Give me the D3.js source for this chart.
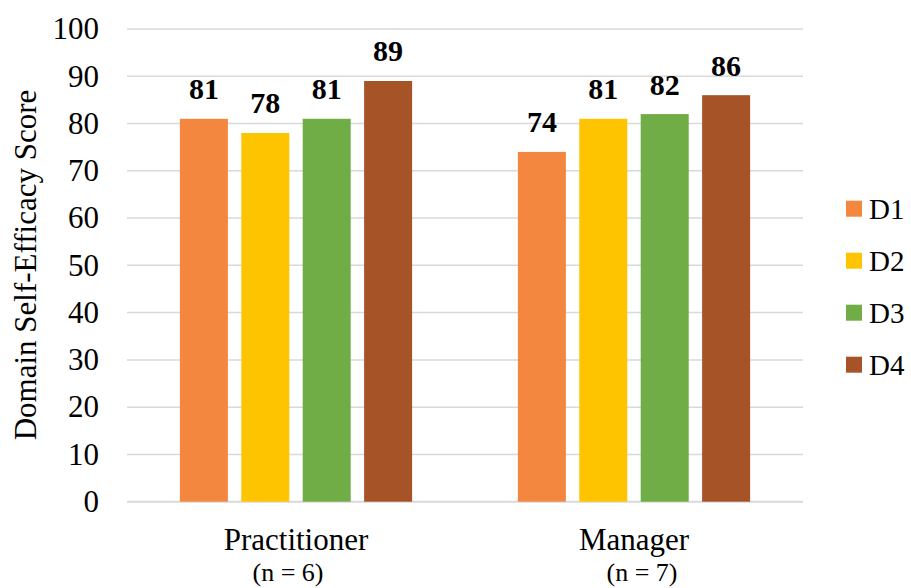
<!DOCTYPE html>
<html>
<head>
<meta charset="utf-8">
<script src="https://d3js.org/d3.v7.min.js"></script>
<style>
  html, body { margin: 0; padding: 0; background: #fff; }
  svg { display: block; }
</style>
</head>
<body>
<svg id="chart" width="911" height="588"></svg>
<script>
// Domain self-efficacy scores by role
const categories = ["Practitioner", "Manager"];
const subLabels = ["(n = 6)", "(n = 7)"];
const series = ["D1", "D2", "D3", "D4"];
const d1 = [81, 74];
const d2 = [78, 81];
const d3values = [81, 82];
const d4 = [89, 86];
const yTicks = [0, 10, 20, 30, 40, 50, 60, 70, 80, 90, 100];
const colors = ["#F4873F", "#FFC400", "#70AD47", "#A65427"];

// pick the first installed serif face
function pickFont(candidates) {
  const ctx = document.createElement("canvas").getContext("2d");
  const sample = "Practitioner 1234567890 Self-Efficacy";
  const widthOf = f => { ctx.font = "40px " + f; return ctx.measureText(sample).width; };
  const mono = widthOf("monospace");
  const sans = widthOf("sans-serif");
  for (const name of candidates) {
    const q = `"${name}"`;
    if (widthOf(`${q}, monospace`) !== mono || widthOf(`${q}, sans-serif`) !== sans) {
      return q;
    }
  }
  return "serif";
}
const FONT = pickFont(["Liberation Serif", "Times New Roman", "Tinos", "Times", "Noto Serif", "DejaVu Serif", "FreeSerif"]) + ", serif";

const values = [d1, d2, d3values, d4];
const rows = categories.map((c, i) => ({
  category: c,
  sub: subLabels[i],
  bars: series.map((s, j) => ({ key: s, value: values[j][i] }))
}));

const svg = d3.select("#chart").attr("font-family", FONT);
const margin = { top: 29, right: 108, bottom: 86, left: 127 };
const W = 911, H = 588;

const x0 = d3.scaleBand()
  .domain(categories)
  .range([margin.left, W - margin.right])
  .padding(0);

const x1 = d3.scaleBand()
  .domain(series)
  .range([0, x0.bandwidth()])
  .paddingInner(0.218)
  .paddingOuter(0.861);

const y = d3.scaleLinear()
  .domain([0, 100])
  .range([H - margin.bottom - 0.3, margin.top]);

const color = d3.scaleOrdinal().domain(series).range(colors);

// gridlines
svg.append("g")
  .selectAll("line")
  .data(yTicks)
  .join("line")
  .attr("x1", margin.left)
  .attr("x2", W - margin.right)
  .attr("y1", d => y(d))
  .attr("y2", d => y(d))
  .attr("stroke", "#d9d9d9")
  .attr("stroke-width", d => d === 0 ? 2 : 1.5);

// y tick labels
svg.append("g")
  .selectAll("text")
  .data(yTicks)
  .join("text")
  .attr("x", 99)
  .attr("y", d => y(d))
  .attr("dy", "0.33em")
  .attr("text-anchor", "end")
  .attr("font-size", 31)
  .attr("fill", "#000")
  .text(d => d);

// y axis title
svg.append("text")
  .attr("transform", "translate(36,265) rotate(-90)")
  .attr("text-anchor", "middle")
  .attr("font-size", 31)
  .attr("fill", "#000")
  .text("Domain Self-Efficacy Score");

// bars and value labels
const groups = svg.append("g")
  .selectAll("g")
  .data(rows)
  .join("g")
  .attr("transform", d => `translate(${x0(d.category)},0)`);

groups.selectAll("rect")
  .data(d => d.bars)
  .join("rect")
  .attr("x", d => x1(d.key))
  .attr("width", x1.bandwidth())
  .attr("y", d => y(d.value))
  .attr("height", d => y(0) - y(d.value))
  .attr("fill", d => color(d.key));

groups.selectAll("text.value")
  .data(d => d.bars)
  .join("text")
  .attr("class", "value")
  .attr("x", d => x1(d.key) + x1.bandwidth() / 2)
  .attr("y", d => y(d.value) - 19.5)
  .attr("text-anchor", "middle")
  .attr("font-size", 30)
  .attr("font-weight", "bold")
  .attr("fill", "#000")
  .text(d => d.value);

// category labels
const subOffsets = [-8, 8];
groups.append("text")
  .attr("x", x0.bandwidth() / 2)
  .attr("y", 550)
  .attr("text-anchor", "middle")
  .attr("font-size", 31)
  .attr("fill", "#000")
  .text(d => d.category);

groups.append("text")
  .attr("x", (d, i) => x0.bandwidth() / 2 + subOffsets[i])
  .attr("y", 581)
  .attr("text-anchor", "middle")
  .attr("font-size", 26)
  .attr("fill", "#000")
  .text(d => d.sub);

// legend
const legend = svg.append("g")
  .selectAll("g")
  .data(series)
  .join("g")
  .attr("transform", (d, i) => `translate(846,${200.7 + i * 52})`);

legend.append("rect")
  .attr("width", 16)
  .attr("height", 16)
  .attr("fill", d => color(d));

legend.append("text")
  .attr("x", 23)
  .attr("y", 18.5)
  .attr("font-size", 29)
  .attr("fill", "#000")
  .text(d => d);
</script>
</body>
</html>
